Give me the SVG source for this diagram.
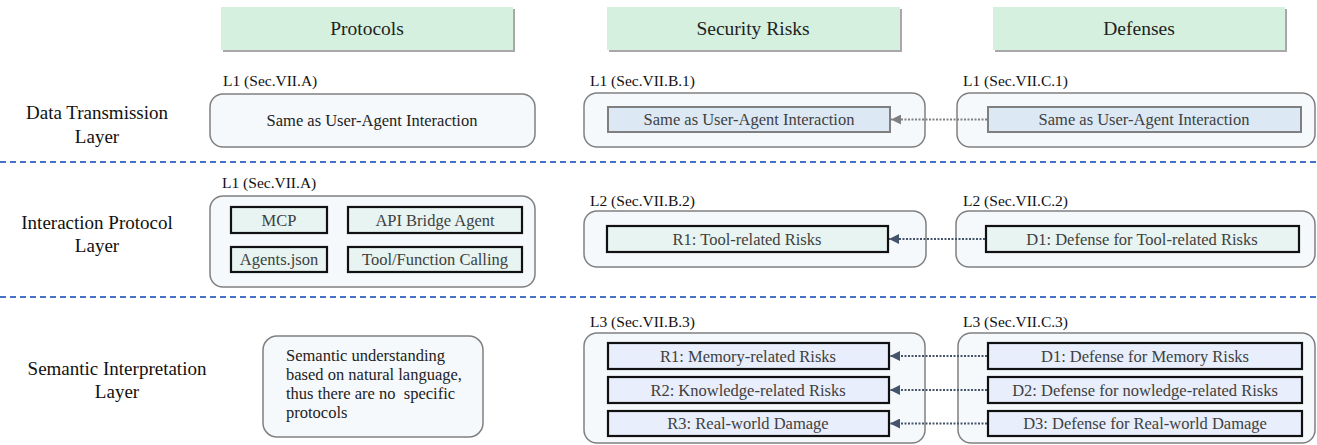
<svg xmlns="http://www.w3.org/2000/svg" width="1317" height="445" viewBox="0 0 1317 445">
<style>
text{font-family:"Liberation Serif","DejaVu Serif",serif;}
.hdr{fill:#d5f0df;}
.shd{fill:#a8a8a8;}
.ht{font-size:19.5px;fill:#222;text-anchor:middle;}
.lay{font-size:19px;fill:#111;text-anchor:middle;}
.lbl{font-size:15.5px;fill:#111;}
.outer{fill:#f6f9fc;stroke:#808080;stroke-width:1.5;}
.in1{fill:#dce9f5;stroke:#7f7f7f;stroke-width:2;}
.in2{fill:#e7f4f1;stroke:#111;stroke-width:2.2;}
.in3{fill:#e8eefb;stroke:#111;stroke-width:2.2;}
.it{font-size:16.5px;fill:#404040;text-anchor:middle;}
.bt{font-size:16.5px;fill:#222;}
.sep{stroke:#4472c4;stroke-width:2;stroke-dasharray:6 4;}
.c1{stroke:#808080;stroke-width:2.2;stroke-dasharray:2 1.5;fill:none;}
.c2{stroke:#44546a;stroke-width:2.2;stroke-dasharray:2 1.5;fill:none;}
</style>
<defs>
<marker id="ag" markerWidth="10" markerHeight="10" refX="10" refY="5" orient="auto" markerUnits="userSpaceOnUse"><path d="M0,0 L10,5 L0,10 Z" fill="#808080"/></marker>
<marker id="ad" markerWidth="10" markerHeight="10" refX="10" refY="5" orient="auto" markerUnits="userSpaceOnUse"><path d="M0,0 L10,5 L0,10 Z" fill="#44546a"/></marker>
</defs>

<g id="headers">
<rect class="shd" x="223" y="9" width="292" height="43"/><rect class="hdr" x="221" y="7" width="292" height="43"/>
<text class="ht" x="367" y="35">Protocols</text>
<rect class="shd" x="609" y="9" width="293" height="43"/><rect class="hdr" x="607" y="7" width="293" height="43"/>
<text class="ht" x="753" y="35">Security Risks</text>
<rect class="shd" x="995" y="9" width="292" height="43"/><rect class="hdr" x="993" y="7" width="292" height="43"/>
<text class="ht" x="1139" y="35">Defenses</text>
</g>

<g id="layers">
<text class="lay" x="97" y="119">Data Transmission</text>
<text class="lay" x="97" y="143">Layer</text>
<text class="lay" x="97" y="229">Interaction Protocol</text>
<text class="lay" x="97" y="252">Layer</text>
<text class="lay" x="117" y="375">Semantic Interpretation</text>
<text class="lay" x="117" y="398">Layer</text>
</g>

<g id="separators">
<line class="sep" x1="0" y1="162" x2="1317" y2="162"/>
<line class="sep" x1="0" y1="297" x2="1317" y2="297"/>
</g>

<g id="p1">
<text class="lbl" x="223" y="86">L1 (Sec.VII.A)</text>
<rect class="outer" x="210" y="94" width="325" height="53" rx="13"/>
<text class="it" x="372" y="126" style="fill:#222">Same as User-Agent Interaction</text>
</g>
<g id="s1">
<text class="lbl" x="590" y="86">L1 (Sec.VII.B.1)</text>
<rect class="outer" x="584" y="93" width="341" height="54" rx="13"/>
<rect class="in1" x="608" y="107" width="282" height="25"/>
<text class="it" x="749" y="125">Same as User-Agent Interaction</text>
</g>
<g id="d1">
<text class="lbl" x="963" y="86">L1 (Sec.VII.C.1)</text>
<rect class="outer" x="957" y="93" width="358" height="54" rx="13"/>
<rect class="in1" x="988" y="107" width="313" height="25"/>
<text class="it" x="1144" y="125">Same as User-Agent Interaction</text>
</g>

<g id="p2">
<text class="lbl" x="222" y="188">L1 (Sec.VII.A)</text>
<rect class="outer" x="210" y="196" width="325" height="91" rx="13"/>
<rect class="in2" x="231" y="207" width="96" height="26"/>
<text class="it" x="279" y="226">MCP</text>
<rect class="in2" x="348" y="207" width="174" height="26"/>
<text class="it" x="435" y="226">API Bridge Agent</text>
<rect class="in2" x="231" y="247" width="96" height="25"/>
<text class="it" x="279" y="265">Agents.json</text>
<rect class="in2" x="348" y="247" width="174" height="25"/>
<text class="it" x="435" y="265">Tool/Function Calling</text>
</g>
<g id="s2">
<text class="lbl" x="590" y="206">L2 (Sec.VII.B.2)</text>
<rect class="outer" x="584" y="211" width="342" height="56" rx="13"/>
<rect class="in2" x="607" y="226" width="281" height="26"/>
<text class="it" x="747" y="245">R1: Tool-related Risks</text>
</g>
<g id="d2">
<text class="lbl" x="963" y="206">L2 (Sec.VII.C.2)</text>
<rect class="outer" x="956" y="211" width="359" height="56" rx="13"/>
<rect class="in2" x="986" y="226" width="313" height="26"/>
<text class="it" x="1142" y="245">D1: Defense for Tool-related Risks</text>
</g>

<g id="p3">
<rect class="outer" x="263" y="336" width="220" height="101" rx="14"/>
<text class="bt" x="286" y="361">Semantic understanding</text>
<text class="bt" x="286" y="380">based on natural language,</text>
<text class="bt" x="286" y="399" xml:space="preserve">thus there are no  specific</text>
<text class="bt" x="286" y="418">protocols</text>
</g>
<g id="s3">
<text class="lbl" x="590" y="327">L3 (Sec.VII.B.3)</text>
<rect class="outer" x="584" y="333" width="341" height="110" rx="13"/>
<rect class="in3" x="608" y="343" width="281" height="26"/>
<text class="it" x="748" y="362">R1: Memory-related Risks</text>
<rect class="in3" x="608" y="377" width="281" height="26"/>
<text class="it" x="748" y="396">R2: Knowledge-related Risks</text>
<rect class="in3" x="608" y="411" width="281" height="25"/>
<text class="it" x="748" y="429">R3: Real-world Damage</text>
</g>
<g id="d3">
<text class="lbl" x="963" y="327">L3 (Sec.VII.C.3)</text>
<rect class="outer" x="958" y="333" width="357" height="110" rx="13"/>
<rect class="in3" x="988" y="343" width="314" height="26"/>
<text class="it" x="1145" y="362">D1: Defense for Memory Risks</text>
<rect class="in3" x="988" y="377" width="314" height="26"/>
<text class="it" x="1145" y="396">D2: Defense for nowledge-related Risks</text>
<rect class="in3" x="988" y="411" width="314" height="25"/>
<text class="it" x="1145" y="429">D3: Defense for Real-world Damage</text>
</g>

<g id="connectors">
<line class="c1" x1="987" y1="119.5" x2="891" y2="119.5" marker-end="url(#ag)"/>
<line class="c2" x1="985" y1="239" x2="889" y2="239" marker-end="url(#ad)"/>
<line class="c2" x1="987" y1="356" x2="890" y2="356" marker-end="url(#ad)"/>
<line class="c2" x1="987" y1="390" x2="890" y2="390" marker-end="url(#ad)"/>
<line class="c2" x1="987" y1="423.5" x2="890" y2="423.5" marker-end="url(#ad)"/>
</g>
</svg>
